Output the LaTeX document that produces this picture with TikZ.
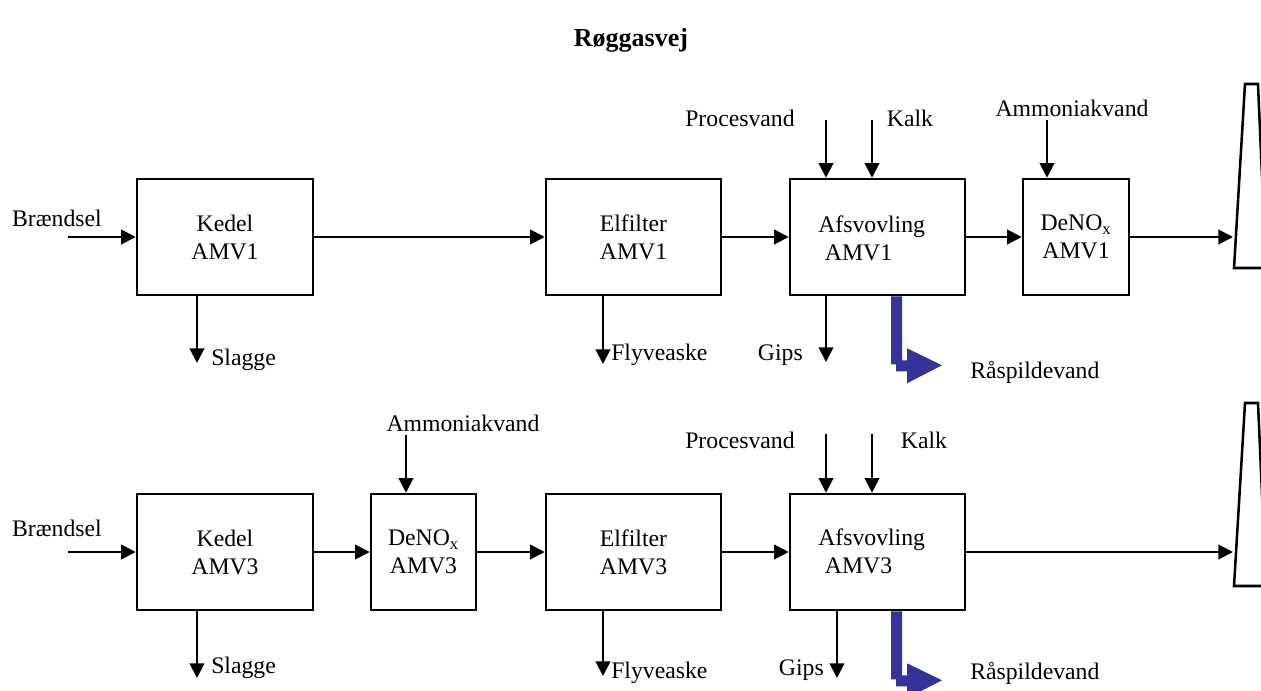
\documentclass[tikz,border=0pt]{standalone}
\usepackage{fontspec}
\setmainfont{Liberation Serif}
\usetikzlibrary{arrows.meta}
\definecolor{drainblue}{RGB}{51,51,153}
\begin{document}
\begin{tikzpicture}[x=0.75pt,y=-0.75pt,
  every node/.style={font=\fontsize{17.8}{21}\selectfont},
  stage/.style={draw, line width=1.9pt, inner sep=0pt, align=center, minimum height=87pt},
  lbl/.style={inner sep=0pt},
  flow/.style={line width=1.5pt, -{Triangle[length=11pt,width=11pt]}},
  stack/.style={draw, line width=1.9pt, line join=miter},
  drain/.pic={\fill[drainblue] (0,0) -- (11,0) -- (11,64) -- (16,64) -- (16,52)
      -- (51,69) -- (16,87) -- (16,75) -- (5,75) -- (5,68) -- (0,68) -- cycle;}
  ]
\useasboundingbox (0,0) rectangle (1261,690);

% title
\node[lbl, font=\fontsize{19.5}{23}\bfseries] (title) at (631,40) {Røggasvej};

% ---------------- line AMV1 ----------------
\node[stage, minimum width=132pt] (kedel1) at (225,237) {Kedel\\AMV1};
\node[stage, minimum width=131.25pt] (elf1) at (633.5,237) {Elfilter\\AMV1};
\node[stage, minimum width=131.25pt] (afs1) at (877.5,237) {};
\node[lbl, anchor=west, align=left] (afs1txt) at (818,238) {Afsvovling\\\hspace{5pt}AMV1};
\node[stage, minimum width=79.5pt] (deno1) at (1076,237) {DeNO\textsubscript{x}\\AMV1};

\node[lbl] (br1) at (57,218) {Brændsel};
\node[lbl] (pv1txt) at (740,118) {Procesvand};
\node[lbl] (ka1txt) at (910,118) {Kalk};
\node[lbl] (am1txt) at (1072,108) {Ammoniakvand};
\node[lbl, anchor=west] (sl1txt) at (211,360) {Slagge};
\node[lbl, anchor=west] (fl1txt) at (611,355) {Flyveaske};
\node[lbl, anchor=east] (gi1txt) at (803,355) {Gips};
\node[lbl, anchor=west] (rs1txt) at (970,372) {Råspildevand};

\coordinate (in1) at (68,237);
\coordinate (pv1) at (826,120);
\coordinate (ka1) at (872,120);
\coordinate (am1) at (1047,120);
\coordinate (sl1) at (197,363);
\coordinate (fl1) at (603,364);
\coordinate (gi1) at (826,362);
\coordinate (dr1) at (891,0);
\coordinate (st1) at (1233,237);

\draw[flow] (in1) -- (kedel1.west);
\draw[flow] (kedel1.east) -- (elf1.west);
\draw[flow] (elf1.east) -- (afs1.west);
\draw[flow] (afs1.east) -- (deno1.west);
\draw[flow] (deno1.east) -- (st1);
\draw[flow] (pv1) -- (pv1 |- afs1.north);
\draw[flow] (ka1) -- (ka1 |- afs1.north);
\draw[flow] (am1) -- (am1 |- deno1.north);
\draw[flow] (sl1 |- kedel1.south) -- (sl1);
\draw[flow] (fl1 |- elf1.south) -- (fl1);
\draw[flow] (gi1 |- afs1.south) -- (gi1);
\pic at (dr1 |- afs1.south) {drain};

% ---------------- line AMV3 ----------------
\node[stage, minimum width=132pt] (kedel3) at (225,552) {Kedel\\AMV3};
\node[stage, minimum width=78.75pt] (deno3) at (423.5,552) {DeNO\textsubscript{x}\\AMV3};
\node[stage, minimum width=131.25pt] (elf3) at (633.5,552) {Elfilter\\AMV3};
\node[stage, minimum width=131.25pt] (afs3) at (877.5,552) {};
\node[lbl, anchor=west, align=left] (afs3txt) at (818,551) {Afsvovling\\\hspace{5pt}AMV3};

\node[lbl] (br3) at (57,528) {Brændsel};
\node[lbl] (am3txt) at (463,423) {Ammoniakvand};
\node[lbl] (pv3txt) at (740,440) {Procesvand};
\node[lbl] (ka3txt) at (924,440) {Kalk};
\node[lbl, anchor=west] (sl3txt) at (211,668) {Slagge};
\node[lbl, anchor=west] (fl3txt) at (611,673) {Flyveaske};
\node[lbl, anchor=east] (gi3txt) at (824,670) {Gips};
\node[lbl, anchor=west] (rs3txt) at (970,673) {Råspildevand};

\coordinate (in3) at (68,552);
\coordinate (am3) at (406,435);
\coordinate (pv3) at (826,434);
\coordinate (ka3) at (872,434);
\coordinate (sl3) at (197,678);
\coordinate (fl3) at (603,676);
\coordinate (gi3) at (837,678);
\coordinate (dr3) at (891,0);
\coordinate (st3) at (1233,552);

\draw[flow] (in3) -- (kedel3.west);
\draw[flow] (kedel3.east) -- (deno3.west);
\draw[flow] (deno3.east) -- (elf3.west);
\draw[flow] (elf3.east) -- (afs3.west);
\draw[flow] (afs3.east) -- (st3);
\draw[flow] (am3) -- (am3 |- deno3.north);
\draw[flow] (pv3) -- (pv3 |- afs3.north);
\draw[flow] (ka3) -- (ka3 |- afs3.north);
\draw[flow] (sl3 |- kedel3.south) -- (sl3);
\draw[flow] (fl3 |- elf3.south) -- (fl3);
\draw[flow] (gi3 |- afs3.south) -- (gi3);
\pic at (dr3 |- afs3.south) {drain};

% chimneys, running off the right edge
\begin{scope}
  \clip (0,0) rectangle (1261,690);
  \draw[stack] (1234,268) -- (1245,84) -- (1258,84) -- (1266,268) -- cycle;
  \draw[stack] (1234,586) -- (1245,403) -- (1258,403) -- (1266,586) -- cycle;
\end{scope}
\end{tikzpicture}
\end{document}
